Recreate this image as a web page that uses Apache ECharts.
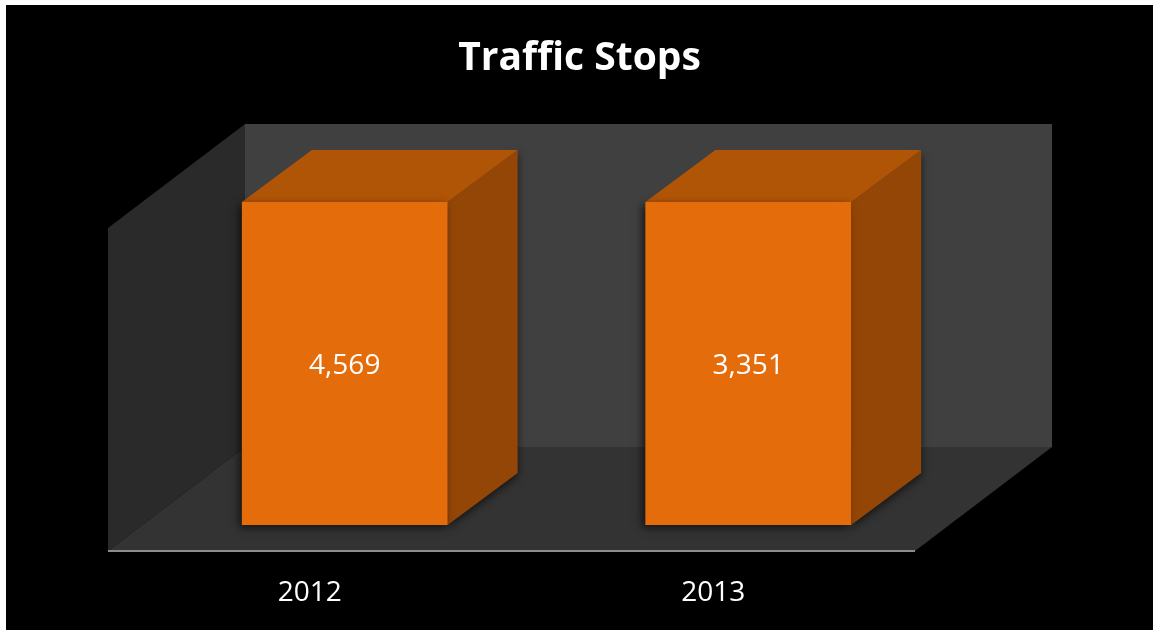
<!DOCTYPE html>
<html>
<head>
<meta charset="utf-8">
<title>Traffic Stops</title>
<script src="https://cdn.jsdelivr.net/npm/echarts@6/dist/echarts.min.js"></script>
<style>
  html, body { margin: 0; padding: 0; background: #ffffff; }
  #chart { position: absolute; left: 6px; top: 5px; width: 1147px; height: 625px; background: #000000; }
</style>
</head>
<body>
<div id="chart"></div>
<script>
// data
const categories = ['2012', '2013']
const values = [4569, 3351]
// the original value axis stops below both bars, so both are cut at the top
const axisMax = 3000

// 3d look: offsets of the back plane and of the bars (px)
const wallDepth = [137, -104]
const barFront = [35, -26]
const barDepth = [70, -52]

const chart = echarts.init(document.getElementById('chart'))

function renderWalls(params, api) {
  const cs = params.coordSys
  const x0 = cs.x
  const x1 = cs.x + cs.width
  const yT = cs.y
  const yB = cs.y + cs.height
  const dx = wallDepth[0]
  const dy = wallDepth[1]
  return {
    type: 'group',
    children: [
      { // back wall
        type: 'rect',
        shape: { x: x0 + dx, y: yT + dy, width: x1 - x0, height: yB - yT },
        style: { fill: '#404040' }
      },
      { // side wall
        type: 'polygon',
        shape: { points: [[x0, yT], [x0 + dx, yT + dy], [x0 + dx, yB + dy], [x0, yB]] },
        style: { fill: '#2a2a2a' }
      },
      { // floor
        type: 'polygon',
        shape: { points: [[x0, yB], [x0 + dx, yB + dy], [x1 + dx, yB + dy], [x1, yB]] },
        style: { fill: '#333333' }
      },
      {
        type: 'line',
        shape: { x1: x0, y1: yB, x2: x1, y2: yB },
        style: { stroke: '#8c8c8c', lineWidth: 2 }
      }
    ]
  }
}

function renderBar(params, api) {
  const idx = api.value(0)
  const val = api.value(1)
  const base = api.coord([idx, 0])
  const top = api.coord([idx, Math.min(val, axisMax)])
  const w = api.size([1, 0])[0] * 0.51
  const cx = base[0] + barFront[0]
  const l = cx - w / 2
  const r = cx + w / 2
  const t = top[1] + barFront[1]
  const b = base[1] + barFront[1]
  const dx = barDepth[0]
  const dy = barDepth[1]
  return {
    type: 'group',
    children: [
      {
        type: 'polygon',
        shape: { points: [[r, t], [r + dx, t + dy], [r + dx, b + dy], [r, b]] },
        style: { fill: '#944607', shadowColor: 'rgba(0,0,0,0.6)', shadowBlur: 8, shadowOffsetY: 3 }
      },
      {
        type: 'polygon',
        shape: { points: [[l, t], [l + dx, t + dy], [r + dx, t + dy], [r, t]] },
        style: { fill: '#b05406' }
      },
      {
        type: 'rect',
        shape: { x: l, y: t, width: w, height: b - t },
        style: { fill: '#e46c0a', shadowColor: 'rgba(0,0,0,0.6)', shadowBlur: 8, shadowOffsetX: -3, shadowOffsetY: 3 }
      },
      {
        type: 'text',
        x: cx,
        y: (t + b) / 2 + 3,
        style: {
          text: val.toLocaleString('en-US'),
          fill: '#ffffff',
          font: '28px "Open Sans"',
          align: 'center',
          verticalAlign: 'middle'
        }
      }
    ]
  }
}

chart.setOption({
  backgroundColor: '#000000',
  animation: false,
  title: {
    text: 'Traffic Stops',
    left: 'center',
    top: 29,
    textStyle: {
      color: '#ffffff',
      fontFamily: 'Open Sans',
      fontWeight: 'bold',
      fontSize: 39
    }
  },
  grid: {
    left: 102,
    right: 238,
    top: 223,
    bottom: 79
  },
  xAxis: {
    type: 'category',
    data: categories,
    axisLine: { show: false },
    axisTick: { show: false },
    axisLabel: {
      color: '#ffffff',
      fontFamily: 'Open Sans',
      fontSize: 28,
      margin: 28
    }
  },
  yAxis: {
    type: 'value',
    min: 0,
    max: axisMax,
    show: false
  },
  series: [
    {
      type: 'custom',
      name: 'walls',
      data: [[0, 0]],
      renderItem: renderWalls,
      silent: true,
      z: 1
    },
    {
      type: 'custom',
      name: 'Traffic Stops',
      data: categories.map((c, i) => [i, values[i]]),
      encode: { x: 0, y: 1 },
      renderItem: renderBar,
      z: 2
    }
  ]
})
</script>
</body>
</html>
